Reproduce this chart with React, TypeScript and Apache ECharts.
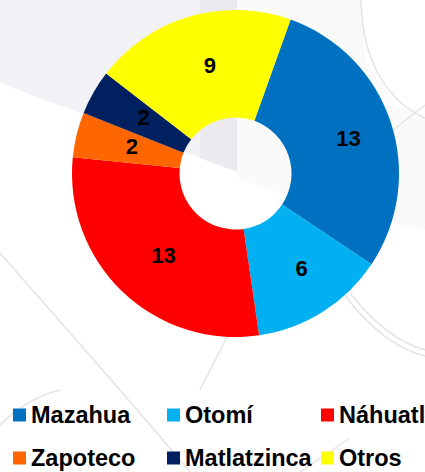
import React, { useEffect, useRef } from "react";
import * as echarts from "echarts";

const categories = ["Mazahua", "Otomí", "Náhuatl", "Zapoteco", "Matlatzinca", "Otros"];
const values = [13, 6, 13, 2, 2, 9];
const colors = ["#0070C0", "#00B0F0", "#FF0000", "#FF6600", "#002060", "#FFFF00"];
const legendRow1 = ["Mazahua", "Otomí", "Náhuatl"];
const legendRow2 = ["Zapoteco", "Matlatzinca", "Otros"];

export default function App() {
  const ref = useRef<HTMLDivElement>(null);
  useEffect(() => {
    if (!ref.current) return;
    const chart = echarts.init(ref.current, undefined, { renderer: "svg" });
    const lineStyle = { stroke: "#e4e4e6", lineWidth: 1.5, fill: null as any };
    const legendText = {
      fontSize: 23.5,
      fontWeight: "bold" as const,
      color: "#000",
      fontFamily: "Liberation Sans, Arial, sans-serif",
      width: 136,
      lineHeight: 24,
    };
    const legendBase = {
      left: 13,
      width: 500,
      padding: 0,
      itemGap: 0,
      itemWidth: 13,
      itemHeight: 13,
      icon: "rect",
      selectedMode: false,
      textStyle: legendText,
    };
    chart.setOption({
      animation: false,
      backgroundColor: "#ffffff",
      graphic: [
        { type: "polygon", z: -10, silent: true, shape: { points: [[0, 0], [237, 0], [237, 170], [200, 158], [0, 83]] }, style: { fill: "#f2f1f5" } },
        { type: "polygon", z: -9, silent: true, shape: { points: [[200, 0], [237, 0], [237, 172], [200, 158]] }, style: { fill: "#ebeaee" } },
        { type: "polygon", z: -10, silent: true, shape: { points: [[237, 0], [362, 0], [365, 60], [395, 105], [425, 118], [425, 230], [300, 200], [237, 178]] }, style: { fill: "#fafafa" } },
        { type: "bezierCurve", z: -8, silent: true, shape: { x1: 361, y1: 0, x2: 425, y2: 118, cpx1: 362, cpy1: 70, cpx2: 395, cpy2: 105 }, style: lineStyle },
        { type: "line", z: -8, silent: true, shape: { x1: 393, y1: 130, x2: 425, y2: 105 }, style: lineStyle },
        { type: "bezierCurve", z: -8, silent: true, shape: { x1: 0, y1: 253, x2: 190, y2: 472, cpx1: 50, cpy1: 310, cpx2: 130, cpy2: 400 }, style: lineStyle },
        { type: "bezierCurve", z: -8, silent: true, shape: { x1: 345, y1: 295, x2: 425, y2: 356, cpx1: 370, cpy1: 330, cpx2: 400, cpy2: 350 }, style: lineStyle },
        { type: "bezierCurve", z: -8, silent: true, shape: { x1: 350, y1: 293, x2: 425, y2: 350, cpx1: 375, cpy1: 325, cpx2: 400, cpy2: 343 }, style: lineStyle },
        { type: "line", z: -8, silent: true, shape: { x1: 200, y1: 390, x2: 228, y2: 335 }, style: lineStyle },
        { type: "bezierCurve", z: -8, silent: true, shape: { x1: 0, y1: 425, x2: 60, y2: 390, cpx1: 20, cpy1: 405, cpx2: 40, cpy2: 395 }, style: lineStyle },
        { type: "line", z: -8, silent: true, shape: { x1: 300, y1: 472, x2: 350, y2: 438 }, style: lineStyle },
      ],
      legend: [
        { ...legendBase, data: legendRow1, top: 403 },
        { ...legendBase, data: legendRow2, top: 446 },
      ],
      series: [
        {
          type: "pie",
          center: [235.5, 173.5],
          radius: [56, 163.5],
          startAngle: 70.3,
          clockwise: true,
          avoidLabelOverlap: false,
          emphasis: { disabled: true },
          label: {
            show: true,
            position: "inside",
            formatter: "{c}",
            fontSize: 22,
            fontWeight: "bold",
            color: "#000",
            fontFamily: "Liberation Sans, Arial, sans-serif",
            offset: [6, 0],
          },
          labelLine: { show: false },
          data: categories.map((name, i) => ({
            name,
            value: values[i],
            itemStyle: { color: colors[i] },
          })),
        },
      ],
    });
    return () => chart.dispose();
  }, []);
  return (
    <div
      ref={ref}
      style={{ position: "fixed", left: 0, top: 0, width: 425, height: 472 }}
    />
  );
}
